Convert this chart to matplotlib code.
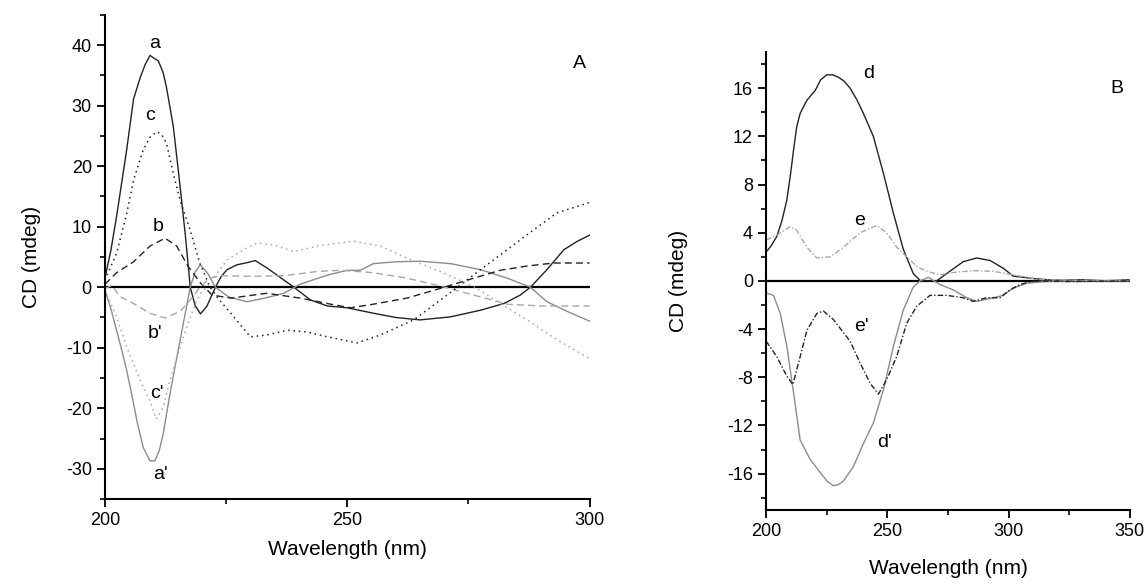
import numpy as np
import matplotlib.pyplot as plt
from matplotlib.ticker import MultipleLocator

plt.rcParams['font.family'] = ['Liberation Sans', 'DejaVu Sans']
plt.rcParams['axes.unicode_minus'] = False

# ---- panel A data ----
wl_a = [200, 201.2, 202.4, 203.5, 204.5, 205.9, 207.3, 208.3, 209.3, 210.2, 211.0, 212.0,
        212.7, 214.1, 215.5, 216.6, 217.6, 218.6, 219.7, 221.0, 222.8, 224.0, 225.2, 227.2,
        229.0, 231.0, 233.4, 236.9, 239.0, 242.4, 245.9, 250.0, 255.4, 260.0, 265.0,
        271.3, 277.5, 282.3, 285.7, 287.8, 291.2, 294.7, 297.5, 300]
cd_a = [1.5, 6.0, 11.7, 17.5, 22.8, 31.1, 34.7, 36.8, 38.3, 37.8, 37.4, 35.5,
        33.0, 26.6, 16.7, 8.5, 0.0, -3.0, -4.4, -3.2, 0.0, 1.8, 2.9, 3.7,
        4.0, 4.4, 3.2, 1.2, 0.0, -2.1, -3.1, -3.4, -4.3, -5.0, -5.4,
        -4.9, -3.8, -2.7, -1.3, 0.0, 2.9, 6.2, 7.6, 8.6]

wl_a2 = [200, 201.2, 202.4, 203.5, 204.5, 205.6, 206.6, 207.9, 209.3, 210.3, 211.2, 212.0,
         213.4, 214.5, 215.5, 216.6, 217.6, 218.6, 219.7, 221.2, 222.8, 225.5, 229.3, 233.0,
         236.9, 240.3, 245.9, 250.0, 252.7, 255.4, 260.0, 265.0, 271.3, 277.5, 283.0,
         287.8, 291.2, 295.4, 300]
cd_a2 = [-0.5, -3.5, -7.1, -10.5, -13.8, -18.0, -22.1, -26.5, -28.7, -28.7, -27.0, -24.3,
         -17.7, -13.0, -8.8, -4.2, 0.0, 2.5, 3.7, 2.3, 0.0, -1.6, -2.4, -1.8,
         -1.0, 0.5, 2.0, 2.8, 2.8, 3.9, 4.2, 4.3, 3.9, 2.9, 1.5,
         0.0, -2.4, -4.0, -5.6]

wl_b = [200, 202.4, 205.9, 209.3, 212.4, 214.8, 217.2, 219.7, 222.1, 226.0, 233.4, 240.3,
        247.2, 250.7, 255.4, 262.3, 269.2, 276.1, 281.6, 287.1, 292.6, 300]
cd_b = [0.5, 2.4, 4.2, 6.8, 8.1, 6.8, 3.4, 0.7, -1.3, -1.8, -1.0, -1.8,
        -2.9, -3.4, -2.8, -1.8, -0.2, 1.5, 2.8, 3.5, 4.0, 4.0]

wl_b2 = [200, 201.5, 203.0, 205.9, 209.3, 212.4, 215.5, 217.6, 219.7, 221.7, 223.8, 230.0,
         236.9, 243.8, 248.6, 255.4, 262.3, 269.2, 276.1, 283.0, 289.9, 300]
cd_b2 = [-0.2, 0.3, -1.5, -2.7, -4.3, -5.1, -4.0, -2.1, 0.1, 1.5, 1.9, 1.8,
         1.9, 2.6, 2.8, 2.4, 1.5, 0.2, -1.3, -2.8, -3.1, -3.1]

wl_c = [200, 202.4, 204.5, 205.9, 207.9, 209.3, 210.7, 211.7, 212.7, 214.1, 215.5, 217.6,
        219.6, 221.7, 223.5, 226.6, 230.0, 233.4, 237.6, 241.7, 245.9, 252.0, 256.8,
        263.7, 270.6, 277.5, 283.0, 288.5, 293.3, 300]
cd_c = [1.2, 5.6, 12.2, 17.7, 22.7, 24.8, 25.7, 25.2, 23.8, 18.8, 14.4, 9.4,
        3.9, 0.0, -2.0, -4.9, -8.2, -7.9, -7.1, -7.4, -8.2, -9.2, -7.9,
        -5.4, -1.3, 2.9, 6.2, 9.5, 12.3, 14.0]

wl_c2 = [200, 202.4, 204.5, 207.3, 209.3, 210.6, 212.0, 213.4, 215.5, 217.6, 219.6, 221.0,
         225.2, 228.6, 231.4, 234.8, 239.0, 243.8, 251.3, 256.8, 262.3, 269.2, 276.1, 281.6,
         287.1, 293.3, 300]
cd_c2 = [-0.5, -4.9, -9.9, -15.4, -18.8, -21.8, -19.9, -15.4, -9.9, -4.9, -1.1, 0.0,
         4.5, 6.2, 7.3, 7.0, 5.9, 6.8, 7.6, 6.8, 4.8, 2.6, 0.1, -2.7,
         -5.4, -8.7, -11.8]

# ---- panel B data ----
wl_d = [200, 202.0, 204.4, 206.5, 208.5, 210.0, 211.3, 212.6, 214.0, 216.8, 220.2, 222.5,
        225.0, 227.5, 229.8, 232.0, 234.6, 237.5, 240.1, 244.2, 248.4, 252.5, 256.6, 260.7,
        263.7, 270.3, 275.8, 281.3, 286.8, 292.3, 297.8, 301.9, 310.2, 315.7, 322, 330,
        340, 350]
cd_d = [2.4, 2.9, 3.7, 5.0, 6.7, 8.8, 10.9, 12.8, 13.9, 15.0, 15.8, 16.7,
        17.1, 17.1, 16.9, 16.6, 16.0, 15.0, 13.9, 12.0, 8.9, 5.6, 2.6, 0.6,
        0.0, 0.0, 0.8, 1.6, 1.9, 1.7, 1.05, 0.4, 0.2, 0.1, 0.05, 0.1,
        0.0, 0.1]

wl_d2 = [200, 203.0, 205.8, 208.5, 211.3, 214.0, 218.1, 222.3, 225.0, 227.7, 229.8, 231.9,
         236.0, 240.1, 244.2, 248.4, 252.5, 256.6, 260.7, 263.5, 266.9, 271.7, 277.2, 282.7,
         286.8, 293.7, 297.8, 301.9, 307.4, 315, 330, 350]
cd_d2 = [-1.0, -1.2, -2.7, -5.4, -9.3, -13.2, -14.8, -15.9, -16.6, -17.0, -16.9, -16.6,
         -15.4, -13.5, -11.8, -9.0, -5.4, -2.4, -0.5, 0.0, 0.3, -0.3, -0.75, -1.4,
         -1.7, -1.4, -1.2, -0.6, -0.2, -0.05, 0.0, 0.0]

wl_e = [200, 204.4, 209.9, 212.6, 216.8, 220.9, 226.4, 231.9, 238.7, 245.6, 249.7, 253.8,
        258.0, 262.1, 266.2, 271.7, 277.2, 285.4, 293.7, 301.9, 307.4, 312.9, 330, 350]
cd_e = [3.4, 3.8, 4.5, 4.2, 2.8, 1.9, 2.0, 2.8, 4.0, 4.6, 4.0, 2.8,
        2.0, 1.2, 0.8, 0.5, 0.7, 0.85, 0.8, 0.5, 0.3, 0.1, 0.05, 0.05]

wl_e2 = [200, 204.4, 208.5, 211.0, 214.0, 216.8, 220.9, 223.6, 227.7, 234.6, 238.7, 242.9,
         246.3, 249.7, 253.8, 258.0, 262.1, 267.6, 274.5, 281.3, 285.4, 290.9, 296.4, 300.5,
         304.7, 310.2, 325, 350]
cd_e2 = [-5.0, -6.3, -7.9, -8.6, -6.3, -4.1, -2.7, -2.5, -3.2, -5.0, -6.8, -8.5,
         -9.4, -8.2, -6.3, -3.5, -2.1, -1.2, -1.2, -1.4, -1.7, -1.4, -1.4, -0.75,
         -0.3, 0.0, -0.05, 0.0]

dark = '#222222'
mid = '#8c8c8c'
light = '#a8a8a8'

fig = plt.figure(figsize=(11.47, 5.84), dpi=100)
axA = fig.add_axes([0.0915, 0.1455, 0.4225, 0.829])
axB = fig.add_axes([0.668, 0.127, 0.317, 0.784])

# panel A
axA.axhline(0, color='black', lw=1.6, zorder=1)
axA.plot(wl_a, cd_a, color=dark, lw=1.0)
axA.plot(wl_a2, cd_a2, color=mid, lw=1.0)
axA.plot(wl_b, cd_b, color=dark, lw=1.0, ls=(0, (5, 3)))
axA.plot(wl_b2, cd_b2, color=light, lw=1.0, ls=(0, (5, 3)))
axA.plot(wl_c, cd_c, color=dark, lw=1.1, ls=(0, (1, 2.5)))
axA.plot(wl_c2, cd_c2, color=light, lw=1.1, ls=(0, (1, 2.5)))
axA.set_xlim(200, 300)
axA.set_ylim(-35, 45)
axA.xaxis.set_major_locator(MultipleLocator(50))
axA.xaxis.set_minor_locator(MultipleLocator(25))
axA.yaxis.set_major_locator(MultipleLocator(10))
axA.yaxis.set_minor_locator(MultipleLocator(5))
axA.set_xlabel('Wavelength (nm)', fontsize=15, labelpad=8)
axA.set_ylabel('CD (mdeg)', fontsize=15, labelpad=18)

for txt, x, y in [('a', 210.3, 40.3), ('c', 209.3, 28.3), ('b', 211.0, 10.0),
                  ("b'", 210.3, -7.6), ("c'", 210.7, -17.6), ("a'", 211.4, -31.0),
                  ('A', 298.0, 37.0)]:
    axA.text(x, y, txt, fontsize=14, ha='center', va='center')

# panel B
axB.axhline(0, color='black', lw=1.6, zorder=1)
axB.plot(wl_d, cd_d, color=dark, lw=1.0)
axB.plot(wl_d2, cd_d2, color=mid, lw=1.0)
axB.plot(wl_e, cd_e, color=light, lw=1.0, ls=(0, (4, 1.5, 1, 1.5)))
axB.plot(wl_e2, cd_e2, color=dark, lw=1.0, ls=(0, (4, 1.5, 1, 1.5)))
axB.set_xlim(200, 350)
axB.set_ylim(-19, 19)
axB.xaxis.set_major_locator(MultipleLocator(50))
axB.xaxis.set_minor_locator(MultipleLocator(25))
axB.yaxis.set_major_locator(MultipleLocator(4))
axB.yaxis.set_minor_locator(MultipleLocator(2))
axB.set_xlabel('Wavelength (nm)', fontsize=15, labelpad=14)
axB.set_ylabel('CD (mdeg)', fontsize=15, labelpad=28)

for txt, x, y in [('d', 242.2, 17.2), ('e', 238.5, 5.0), ("e'", 239.4, -3.8),
                  ("d'", 249.0, -13.4), ('B', 344.5, 16.0)]:
    axB.text(x, y, txt, fontsize=14, ha='center', va='center')

for ax in (axA, axB):
    for s in ('top', 'right'):
        ax.spines[s].set_visible(False)
    for s in ('left', 'bottom'):
        ax.spines[s].set_linewidth(1.5)
    ax.tick_params(which='major', direction='out', length=6, width=1.3, labelsize=13)
    ax.tick_params(which='minor', direction='out', length=3.5, width=1.2)

fig.savefig('out.png', dpi=100)
